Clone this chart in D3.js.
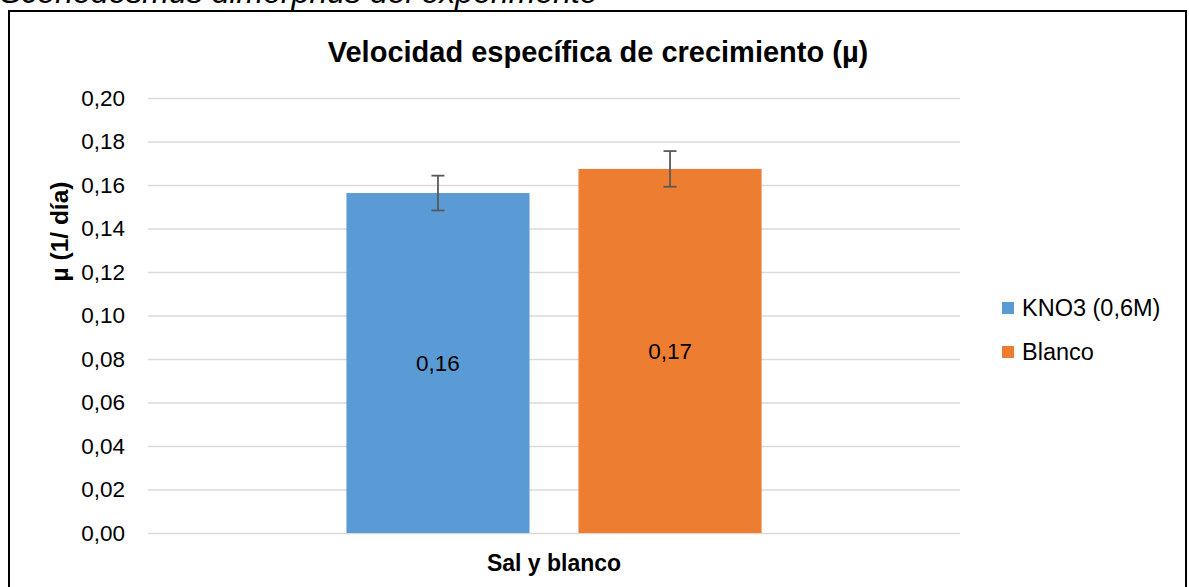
<!DOCTYPE html>
<html>
<head>
<meta charset="utf-8">
<script src="https://cdn.jsdelivr.net/npm/d3@7"></script>
<style>
  body { margin: 0; background: #fff; }
  svg { display: block; font-family: "Liberation Sans", Arial, sans-serif; }
</style>
</head>
<body>
<div id="chart"></div>
<script>
// Chart data
const categories = ['Sal y blanco'];
const seriesNames = ['KNO3 (0,6M)', 'Blanco'];
const seriesValues = [0.1563, 0.1674];
const seriesErrors = [0.008, 0.0082];
const seriesColors = ['#5B9BD5', '#ED7D31'];
const yTicks = [0, 0.02, 0.04, 0.06, 0.08, 0.10, 0.12, 0.14, 0.16, 0.18, 0.20];

const width = 1189, height = 587;
const plot = {left: 148, right: 960, top: 98, bottom: 533};

// comma decimal formatting
const locale = d3.formatLocale({decimal: ',', thousands: '.', grouping: [3], currency: ['', '']});
const fmtTick = locale.format('.2f');

const svg = d3.select('#chart')
  .append('svg')
  .attr('width', width)
  .attr('height', height);

// caption text cut at top of the page (as in the source)
svg.append('text')
  .attr('x', 0)
  .attr('y', 3)
  .attr('font-size', 32)
  .attr('font-style', 'italic')
  .attr('fill', '#000')
  .text('Scenedesmus dimorphus del experimento');

// chart frame
svg.append('rect')
  .attr('x', 9)
  .attr('y', 11)
  .attr('width', 1177)
  .attr('height', 600)
  .attr('fill', 'none')
  .attr('stroke', '#000')
  .attr('stroke-width', 2);

// scales
const yScale = d3.scaleLinear()
  .domain([0, 0.2])
  .range([plot.bottom, plot.top]);

const xScale = d3.scaleBand()
  .domain(categories)
  .range([plot.left, plot.right]);

const xSub = d3.scaleBand()
  .domain(seriesNames)
  .range([0, xScale.bandwidth()])
  .paddingInner(0.211)
  .paddingOuter(0.855);

// gridlines
svg.append('g')
  .attr('transform', `translate(${plot.left},0)`)
  .call(d3.axisLeft(yScale).tickValues(yTicks).tickSize(-(plot.right - plot.left)).tickFormat(''))
  .call(g => g.select('.domain').remove())
  .call(g => g.selectAll('.tick line').attr('stroke', '#D9D9D9').attr('stroke-width', 1.5));

// y tick labels
svg.append('g')
  .attr('transform', `translate(125,0)`)
  .call(d3.axisLeft(yScale).tickValues(yTicks).tickSize(0).tickPadding(0).tickFormat(fmtTick))
  .call(g => g.select('.domain').remove())
  .call(g => g.selectAll('text')
    .attr('font-size', 22.5)
    .attr('font-family', '"Liberation Sans", Arial, sans-serif')
    .attr('fill', '#000'));

// bars
const bars = seriesNames.map((name, i) => ({
  name: name,
  value: seriesValues[i],
  err: seriesErrors[i],
  color: seriesColors[i],
  cat: categories[0]
}));

const group = svg.append('g');

group.selectAll('rect.bar')
  .data(bars)
  .enter()
  .append('rect')
  .attr('class', 'bar')
  .attr('x', d => xScale(d.cat) + xSub(d.name))
  .attr('y', d => yScale(d.value))
  .attr('width', xSub.bandwidth())
  .attr('height', d => yScale(0) - yScale(d.value))
  .attr('fill', d => d.color);

// error bars
const errG = group.selectAll('g.err')
  .data(bars)
  .enter()
  .append('g')
  .attr('class', 'err')
  .attr('stroke', '#595959')
  .attr('stroke-width', 1.8);

const cx = d => xScale(d.cat) + xSub(d.name) + xSub.bandwidth() / 2;

errG.append('line')
  .attr('x1', cx).attr('x2', cx)
  .attr('y1', d => yScale(d.value + d.err))
  .attr('y2', d => yScale(d.value - d.err));
errG.append('line')
  .attr('x1', d => cx(d) - 6.5).attr('x2', d => cx(d) + 6.5)
  .attr('y1', d => yScale(d.value + d.err))
  .attr('y2', d => yScale(d.value + d.err));
errG.append('line')
  .attr('x1', d => cx(d) - 6.5).attr('x2', d => cx(d) + 6.5)
  .attr('y1', d => yScale(d.value - d.err))
  .attr('y2', d => yScale(d.value - d.err));

// data labels centred in bars
group.selectAll('text.lbl')
  .data(bars)
  .enter()
  .append('text')
  .attr('class', 'lbl')
  .attr('x', cx)
  .attr('y', d => (yScale(d.value) + yScale(0)) / 2)
  .attr('dy', '0.35em')
  .attr('text-anchor', 'middle')
  .attr('font-size', 22.5)
  .attr('fill', '#000')
  .text(d => fmtTick(d.value).slice(0, 4));

// title
svg.append('text')
  .attr('x', 598)
  .attr('y', 62)
  .attr('text-anchor', 'middle')
  .attr('font-size', 29)
  .attr('font-weight', 'bold')
  .text('Velocidad específica de crecimiento (µ)');

// x axis title
svg.append('text')
  .attr('x', xScale(categories[0]) + xScale.bandwidth() / 2)
  .attr('y', 571)
  .attr('text-anchor', 'middle')
  .attr('font-size', 23)
  .attr('font-weight', 'bold')
  .text(categories[0]);

// y axis title
svg.append('text')
  .attr('transform', `translate(68,${(plot.top + plot.bottom) / 2 - 84}) rotate(-90)`)
  .attr('text-anchor', 'middle')
  .attr('font-size', 24.5)
  .attr('font-weight', 'bold')
  .text('µ (1/ día)');

// legend
const legend = svg.append('g')
  .attr('transform', 'translate(1002,302)');

const items = legend.selectAll('g')
  .data(bars)
  .enter()
  .append('g')
  .attr('transform', (d, i) => `translate(0,${i * 44})`);

items.append('rect')
  .attr('width', 12)
  .attr('height', 12)
  .attr('fill', d => d.color);

items.append('text')
  .attr('x', 20)
  .attr('y', 6)
  .attr('dy', '0.35em')
  .attr('font-size', 23.5)
  .text(d => d.name);
</script>
</body>
</html>
